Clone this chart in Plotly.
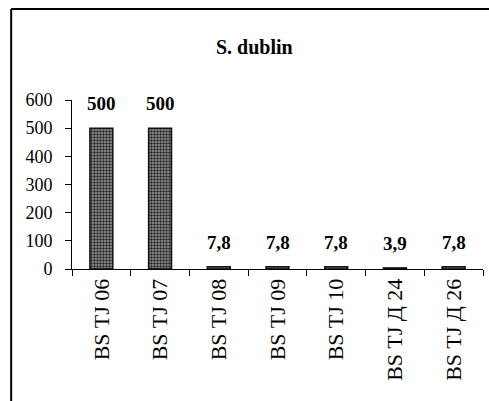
import plotly.graph_objects as go

# Strain codes and measured values
strains = ["BS TJ 06", "BS TJ 07", "BS TJ 08", "BS TJ 09", "BS TJ 10", "BS TJ Д 24", "BS TJ Д 26"]
values = [500, 500, 7.8, 7.8, 7.8, 3.9, 7.8]
y_ticks = [0, 100, 200, 300, 400, 500, 600]

labels = [f"{v:g}".replace(".", ",") for v in values]
serif = "Liberation Serif"

fig = go.Figure()
fig.add_trace(go.Bar(
    x=strains,
    y=values,
    marker=dict(
        color="#8a8a8a",
        line=dict(color="#111111", width=1.5),
        pattern=dict(shape=".", fgcolor="#262626", bgcolor="#9a9a9a", size=3, solidity=0.5),
    ),
    showlegend=False,
))

# value labels above each bar
for s, v, t in zip(strains, values, labels):
    fig.add_annotation(x=s, y=v, text=f"<b>{t}</b>", showarrow=False, yanchor="bottom", yshift=12,
                       font=dict(family=serif, size=19, color="#000000"))

fig.update_layout(
    template="none",
    width=489, height=401,
    margin=dict(l=72, r=6, t=100, b=132),
    paper_bgcolor="white", plot_bgcolor="white",
    bargap=0.61,
    font=dict(family=serif, color="#000000"),
    title=dict(text="<b>S. dublin</b>", x=0.52, xanchor="center", y=0.883, yanchor="middle",
               font=dict(family=serif, size=20, color="#000000")),
    xaxis=dict(
        type="category",
        showline=True, linecolor="#000000", linewidth=1,
        ticks="outside", tickson="boundaries", ticklen=6, tickcolor="#000000",
        tickangle=-90,
        tickfont=dict(family=serif, size=22, color="#000000"),
        showgrid=False, automargin=False,
    ),
    yaxis=dict(
        range=[0, 600], tickmode="array", tickvals=y_ticks,
        ticktext=[f"{v}\u00a0\u00a0" for v in y_ticks],
        showline=True, linecolor="#000000", linewidth=1,
        ticks="outside", ticklen=6, tickcolor="#000000", tickwidth=1,
        tickfont=dict(family=serif, size=18, color="#000000"),
        showgrid=False, zeroline=False, automargin=False,
    ),
)

# frame around the chart area (left and top edges)
fig.add_shape(type="line", xref="paper", yref="paper", x0=-0.148, x1=-0.148, y0=1.538, y1=-2.0,
              line=dict(color="#000000", width=2))
fig.add_shape(type="line", xref="paper", yref="paper", x0=-0.148, x1=1.1, y0=1.538, y1=1.538,
              line=dict(color="#000000", width=2))

fig.write_html("out.html")
